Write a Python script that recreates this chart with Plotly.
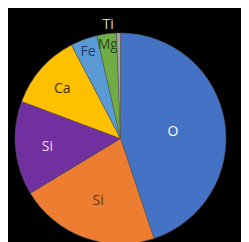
import plotly.graph_objects as go

slice_ids = ["O", "Si-1", "Si-2", "Ca", "Fe", "Mg", "Ti"]
slice_text = ["O", "Si", "Si", "Ca", "Fe", "Mg", "Ti"]
values = [44.9, 21.5, 14.4, 11.6, 4.1, 3.0, 0.6]
colors = ["#4472C4", "#ED7D31", "#7030A0", "#FFC000", "#5B9BD5", "#70AD47", "#A5A5A5"]
text_colors = ["#ffffff", "#6b3010", "#f3dcf3", "#3a3000", "#1f3864", "#2b4a1c", "#d8d8d8"]
text_pos = ["inside", "inside", "inside", "inside", "inside", "inside", "outside"]

fig = go.Figure(go.Pie(
    labels=slice_ids,
    text=slice_text,
    values=values,
    sort=False,
    direction="clockwise",
    rotation=0,
    marker=dict(colors=colors, line=dict(color="#555555", width=0.5)),
    textinfo="text",
    textposition=text_pos,
    insidetextorientation="horizontal",
    textfont=dict(family="Open Sans", size=15, color=text_colors),
    outsidetextfont=dict(family="Open Sans", size=12, color="#d8d8d8"),
    showlegend=False,
    hoverinfo="text+percent",
))

fig.update_layout(
    width=249, height=242,
    margin=dict(l=4, r=29, t=0, b=0),
    paper_bgcolor="#000000",
    plot_bgcolor="#000000",
    uniformtext=dict(minsize=14, mode="show"),
)

fig.write_html("out.html")
